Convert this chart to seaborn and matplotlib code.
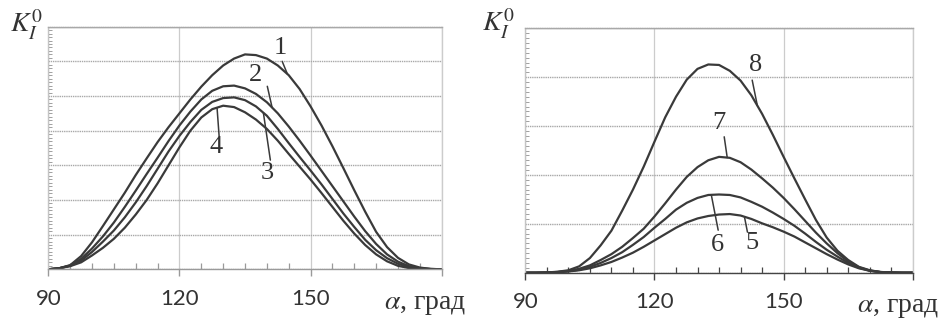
import numpy as np
import pandas as pd
import matplotlib.pyplot as plt
import seaborn as sns
from matplotlib.ticker import MultipleLocator, FixedLocator

# angle grid, degrees
alpha = np.arange(90, 180.1, 2.5)

# left panel, curves 1-4
k1 = [0, 0.03, 0.12, 0.38, 0.78, 1.25, 1.73, 2.21, 2.72, 3.2, 3.67, 4.1, 4.5, 4.9, 5.27, 5.6, 5.88, 6.08, 6.2,
      6.18, 6.08, 5.88, 5.6, 5.2, 4.7, 4.15, 3.55, 2.92, 2.28, 1.66, 1.08, 0.64, 0.33, 0.14, 0.05, 0.01, 0]
k2 = [0, 0.03, 0.11, 0.3, 0.6, 0.95, 1.35, 1.8, 2.27, 2.75, 3.22, 3.7, 4.15, 4.55, 4.9, 5.15, 5.28, 5.3, 5.22,
      5.06, 4.82, 4.5, 4.12, 3.71, 3.28, 2.84, 2.4, 1.96, 1.52, 1.1, 0.73, 0.43, 0.22, 0.09, 0.03, 0.01, 0]
k3 = [0, 0.03, 0.1, 0.25, 0.5, 0.8, 1.12, 1.5, 1.93, 2.4, 2.9, 3.4, 3.85, 4.25, 4.6, 4.83, 4.94, 4.96, 4.88,
      4.7, 4.43, 4.05, 3.64, 3.24, 2.85, 2.45, 2.03, 1.61, 1.22, 0.85, 0.55, 0.32, 0.16, 0.06, 0.02, 0.005, 0]
k4 = [0, 0.03, 0.09, 0.2, 0.4, 0.62, 0.88, 1.2, 1.58, 2.0, 2.48, 3.0, 3.52, 4.0, 4.38, 4.62, 4.72, 4.68, 4.53,
      4.32, 4.05, 3.71, 3.33, 2.96, 2.59, 2.2, 1.8, 1.4, 1.03, 0.7, 0.43, 0.23, 0.1, 0.035, 0.01, 0, 0]

# right panel, curves 5-8
k5 = [0, 0, 0.003, 0.01, 0.025, 0.05, 0.09, 0.15, 0.22, 0.31, 0.41, 0.53, 0.66, 0.79, 0.92, 1.03, 1.11, 1.16, 1.19,
      1.2, 1.17, 1.1, 1.01, 0.93, 0.84, 0.74, 0.62, 0.5, 0.38, 0.27, 0.17, 0.09, 0.04, 0.012, 0.004, 0, 0]
k6 = [0, 0, 0.004, 0.012, 0.03, 0.06, 0.12, 0.2, 0.3, 0.42, 0.57, 0.73, 0.92, 1.1, 1.29, 1.43, 1.53, 1.59, 1.6,
      1.59, 1.54, 1.45, 1.35, 1.23, 1.1, 0.96, 0.8, 0.63, 0.47, 0.33, 0.2, 0.1, 0.04, 0.012, 0.004, 0, 0]
k7 = [0, 0, 0.005, 0.015, 0.035, 0.08, 0.15, 0.26, 0.38, 0.53, 0.71, 0.9, 1.15, 1.42, 1.7, 1.96, 2.16, 2.3, 2.37,
      2.35, 2.26, 2.11, 1.93, 1.74, 1.53, 1.3, 1.06, 0.82, 0.6, 0.4, 0.23, 0.11, 0.045, 0.014, 0.004, 0, 0]
k8 = [0, 0, 0.005, 0.02, 0.05, 0.13, 0.3, 0.56, 0.86, 1.27, 1.7, 2.17, 2.68, 3.18, 3.6, 3.95, 4.17, 4.26, 4.25,
      4.13, 3.93, 3.63, 3.25, 2.82, 2.37, 1.93, 1.5, 1.08, 0.72, 0.45, 0.26, 0.12, 0.05, 0.015, 0.005, 0, 0]

xticks = [90, 120, 150, 180]
xticklabels = ['90', '120', '150', '']

# curve labels: text, text pos, free end of leader, x where leader meets the curve
left_labels = [('1', 143.05, 6.38, 143.5, 6.0, 144.7),
               ('2', 137.3, 5.6, 140.1, 5.28, 141.2),
               ('3', 140.1, 2.77, 140.8, 3.15, 139.2),
               ('4', 128.4, 3.52, 129.1, 3.8, 128.6)]
right_labels = [('8', 143.4, 4.25, 142.7, 3.94, 143.9),
                ('7', 135.0, 3.06, 136.2, 2.78, 136.9),
                ('6', 134.6, 0.57, 134.8, 0.87, 133.2),
                ('5', 142.7, 0.61, 141.6, 0.83, 140.9)]

sns.set_style('white')
plt.rcParams['mathtext.fontset'] = 'stix'
plt.rcParams['font.family'] = ['Liberation Serif', 'DejaVu Serif']

line_col = '#3a3a3a'

fig = plt.figure(figsize=(9.44, 3.23), dpi=100)
ax1 = fig.add_axes([0.0512, 0.1663, 0.4167, 0.7511])
ax2 = fig.add_axes([0.5565, 0.1557, 0.4104, 0.7567])


def draw_panel(ax, curves, names, ymax, labels, bottom_col):
    df = pd.DataFrame({
        'alpha': np.tile(alpha, len(curves)),
        'K': np.concatenate([np.array(c, dtype=float) for c in curves]),
        'curve': np.repeat(names, len(alpha)),
    })
    sns.lineplot(data=df, x='alpha', y='K', units='curve', estimator=None,
                 color=line_col, lw=1.6, ax=ax, legend=False, sort=False)
    ax.set_xlabel('')
    ax.set_ylabel('')
    ax.set_xlim(90, 180)
    ax.set_ylim(0, ymax)

    ax.xaxis.set_major_locator(FixedLocator(xticks))
    ax.set_xticklabels(xticklabels, fontfamily='Lato', fontsize=16, color='#333333')
    ax.xaxis.set_minor_locator(MultipleLocator(5))
    ax.yaxis.set_major_locator(MultipleLocator(1))
    ax.yaxis.set_minor_locator(MultipleLocator(0.1))
    ax.set_yticklabels([])

    ax.tick_params(bottom=True, left=True, which='both')
    ax.tick_params(axis='x', which='major', direction='out', length=5, width=1,
                   color=bottom_col, pad=9)
    ax.tick_params(axis='x', which='minor', direction='in', length=4, width=0.9,
                   color=bottom_col)
    ax.tick_params(axis='y', which='major', length=0)
    ax.tick_params(axis='y', which='minor', direction='in', length=3, width=0.7,
                   color='#a0a0a0')

    ax.grid(axis='x', which='major', color='#cccccc', lw=0.9, ls='-')
    ax.grid(axis='y', which='major', color='#a8a8a8', lw=1.0, ls=(0, (1, 0.6)))

    ax.spines['left'].set_color('#c4c4c4')
    ax.spines['right'].set_color('#cccccc')
    ax.spines['top'].set_color('#a8a8a8')
    ax.spines['top'].set_linestyle((0, (1, 0.6)))
    ax.spines['bottom'].set_color(bottom_col)
    for s in ax.spines.values():
        s.set_linewidth(1.0)

    for name, tx, ty, fx, fy, cx in labels:
        cy = np.interp(cx, alpha, curves[names.index(name)])
        ax.plot([fx, cx], [fy, cy], color=line_col, lw=1.1)
        ax.text(tx, ty, name, fontsize=19, color='#333333', ha='center', va='center',
                family='Liberation Serif')


draw_panel(ax1, [k1, k2, k3, k4], ['1', '2', '3', '4'], 7, left_labels, '#9a9a9a')
draw_panel(ax2, [k5, k6, k7, k8], ['5', '6', '7', '8'], 5, right_labels, '#444444')

# axis captions
fig.text(10 / 944, 1 - 33 / 323, r'$K_I^{\mathit{0}}$', fontsize=20, color='#333333',
         ha='left', va='baseline')
fig.text(482 / 944, 1 - 32 / 323, r'$K_I^{\mathit{0}}$', fontsize=20, color='#333333',
         ha='left', va='baseline')
fig.text(466 / 944, 1 - 309 / 323, r'$\alpha$, град', fontsize=20, color='#333333',
         ha='right', va='baseline')
fig.text(939 / 944, 1 - 312 / 323, r'$\alpha$, град', fontsize=20, color='#333333',
         ha='right', va='baseline')

fig.savefig('out.png', dpi=100, facecolor='white')
